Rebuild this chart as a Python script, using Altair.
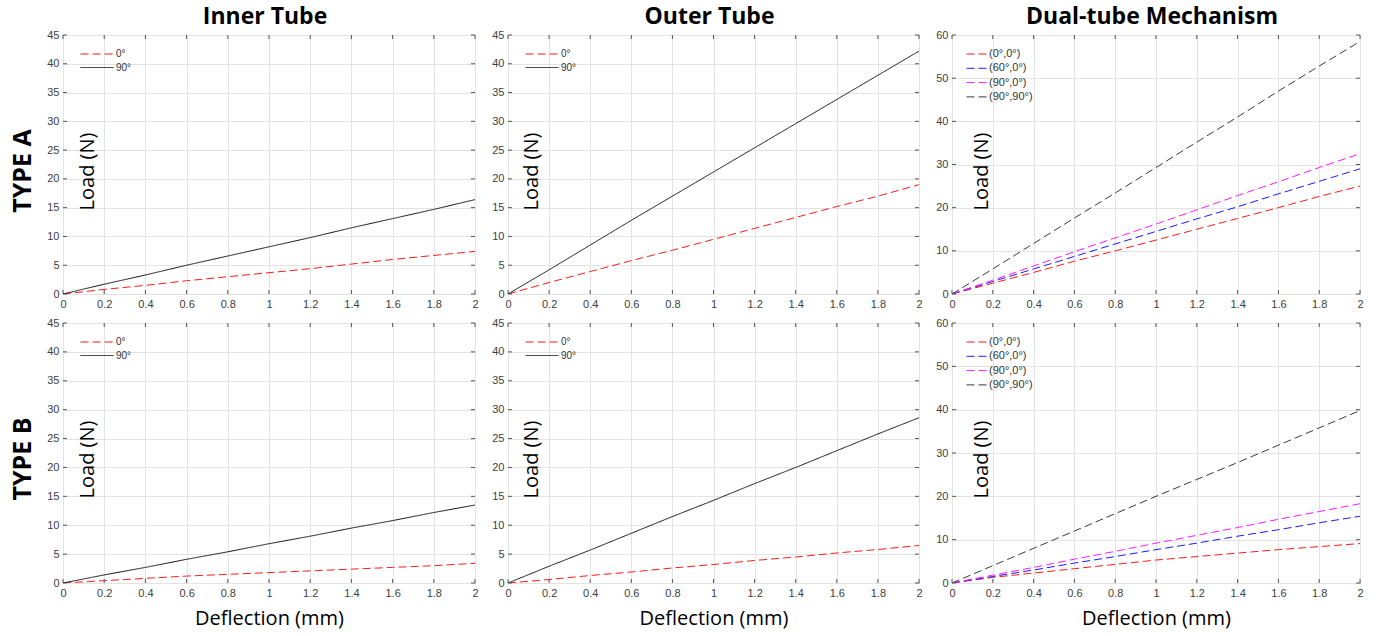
import altair as alt
import pandas as pd

# ---------------- data ----------------
deflection = [0, 0.2, 0.4, 0.6, 0.8, 1.0, 1.2, 1.4, 1.6, 1.8, 2.0]

inner_a_0 = [0, 0.8, 1.5, 2.3, 3.0, 3.7, 4.4, 5.2, 6.0, 6.7, 7.4]
inner_a_90 = [0, 1.7, 3.3, 5.0, 6.6, 8.2, 9.8, 11.5, 13.1, 14.7, 16.4]
outer_a_0 = [0, 2.0, 3.9, 5.8, 7.6, 9.5, 11.4, 13.3, 15.2, 17.0, 19.0]
outer_a_90 = [0, 4.2, 8.5, 12.8, 17.0, 21.2, 25.4, 29.6, 33.8, 38.0, 42.2]
dual_a_0_0 = [0, 2.5, 5.0, 7.6, 10.0, 12.5, 15.0, 17.5, 20.0, 22.6, 25.0]
dual_a_60_0 = [0, 2.9, 5.8, 8.7, 11.6, 14.5, 17.4, 20.2, 23.2, 26.1, 29.0]
dual_a_90_0 = [0, 3.2, 6.5, 9.8, 13.0, 16.2, 19.5, 22.8, 26.0, 29.3, 32.5]
dual_a_90_90 = [0, 5.8, 11.7, 17.6, 23.4, 29.3, 35.2, 41.0, 47.0, 52.8, 58.5]

inner_b_0 = [0, 0.4, 0.8, 1.2, 1.5, 1.8, 2.1, 2.4, 2.7, 3.0, 3.4]
inner_b_90 = [0, 1.4, 2.7, 4.1, 5.4, 6.8, 8.1, 9.5, 10.8, 12.2, 13.5]
outer_b_0 = [0, 0.6, 1.3, 1.9, 2.6, 3.2, 3.9, 4.5, 5.2, 5.8, 6.5]
outer_b_90 = [0, 2.9, 5.7, 8.6, 11.5, 14.3, 17.2, 20.0, 22.9, 25.8, 28.6]
dual_b_0_0 = [0, 1.3, 2.3, 3.3, 4.3, 5.3, 6.1, 6.9, 7.7, 8.4, 9.1]
dual_b_60_0 = [0, 1.5, 3.0, 4.6, 6.1, 7.7, 9.2, 10.8, 12.3, 13.9, 15.4]
dual_b_90_0 = [0, 1.8, 3.6, 5.5, 7.3, 9.2, 11.0, 12.8, 14.7, 16.5, 18.3]
dual_b_90_90 = [0, 4.0, 8.0, 12.0, 16.0, 20.0, 23.9, 27.8, 31.8, 35.8, 39.8]

single_series = ["0°", "90°"]
dual_series = ["(0°,0°)", "(60°,0°)", "(90°,0°)", "(90°,90°)"]
column_titles = ["Inner Tube", "Outer Tube", "Dual-tube Mechanism"]
row_titles = ["TYPE A", "TYPE B"]

x_ticks = [0, 0.2, 0.4, 0.6, 0.8, 1.0, 1.2, 1.4, 1.6, 1.8, 2.0]
y_ticks_single = [0, 5, 10, 15, 20, 25, 30, 35, 40, 45]
y_ticks_dual = [0, 10, 20, 30, 40, 50, 60]

# ---------------- styling ----------------
FRAME = "#555555"
TICKCOL = "#404040"
TICK_LEN = 4
TITLE_FONT = "Open Sans"
LABEL_FONT = "Liberation Sans"


def frame_df(names, series):
    rows = []
    for name, ys in zip(names, series):
        for x, y in zip(deflection, ys):
            rows.append({"x": x, "y": y, "series": name})
    return pd.DataFrame(rows)


def panel(names, series, colors, dashes, y_max, y_ticks, w, h,
          col_title=None, row_title=None, x_title=False,
          load_x=24, sym_len=33, legend_x=17, legend_font=10, row_pad=3.5):
    df = frame_df(names, series)
    xs = alt.Scale(domain=[0, 2], nice=False, zero=False)
    ys = alt.Scale(domain=[0, y_max], nice=False)

    x_axis = alt.Axis(
        values=x_ticks, format="~g", grid=True, ticks=False, domain=False,
        labelPadding=4, labelFontSize=11, labelFont=LABEL_FONT,
        labelColor=TICKCOL, labelFlush=False, labelOverlap=False,
        title="Deflection (mm)" if x_title else None,
        titleFont=TITLE_FONT, titleFontSize=20, titleFontWeight="normal",
        titleColor="black", titleY=35, titleBaseline="middle",
    )
    y_axis = alt.Axis(
        values=y_ticks, grid=True, ticks=False, domain=False,
        labelPadding=4, labelFontSize=11, labelFont=LABEL_FONT,
        labelColor=TICKCOL, labelFlush=False, labelOverlap=False,
        title="Load (N)", titleFont=TITLE_FONT, titleFontSize=20,
        titleFontWeight="normal", titleColor="black", titleAngle=270,
        titleX=load_x, titleY=136, titleBaseline="middle", titleAlign="center",
    )

    leg = alt.Legend(
        title=None, orient="none", legendX=legend_x, legendY=14,
        symbolType="stroke", symbolSize=sym_len * sym_len,
        symbolStrokeWidth=1, clipHeight=10, rowPadding=row_pad,
        labelOffset=2, labelFontSize=legend_font, labelFont=LABEL_FONT,
        labelColor="#333333", padding=0,
    )

    lines = alt.Chart(df).mark_line(strokeWidth=1, clip=True).encode(
        x=alt.X("x:Q", scale=xs, axis=x_axis),
        y=alt.Y("y:Q", scale=ys, axis=y_axis),
        color=alt.Color("series:N", scale=alt.Scale(domain=names, range=colors),
                        legend=leg),
        strokeDash=alt.StrokeDash("series:N",
                                  scale=alt.Scale(domain=names, range=dashes),
                                  legend=leg),
    )

    xt = pd.DataFrame({"v": x_ticks})
    yt = pd.DataFrame({"v": y_ticks})
    tick_layers = [
        alt.Chart(xt).mark_rule(color=FRAME, strokeWidth=1).encode(
            x=alt.X("v:Q", scale=xs, axis=x_axis),
            y=alt.value(h), y2=alt.value(h - TICK_LEN)),
        alt.Chart(xt).mark_rule(color=FRAME, strokeWidth=1).encode(
            x=alt.X("v:Q", scale=xs, axis=x_axis),
            y=alt.value(0), y2=alt.value(TICK_LEN)),
        alt.Chart(yt).mark_rule(color=FRAME, strokeWidth=1).encode(
            y=alt.Y("v:Q", scale=ys, axis=y_axis),
            x=alt.value(0), x2=alt.value(TICK_LEN)),
        alt.Chart(yt).mark_rule(color=FRAME, strokeWidth=1).encode(
            y=alt.Y("v:Q", scale=ys, axis=y_axis),
            x=alt.value(w), x2=alt.value(w - TICK_LEN)),
    ]

    layers = [lines] + tick_layers
    if col_title:
        layers.append(
            alt.Chart(pd.DataFrame({"t": [col_title]})).mark_text(
                font=TITLE_FONT, fontSize=23, fontWeight="bold", color="black",
                align="center", baseline="alphabetic",
            ).encode(text="t:N", x=alt.value(w / 2 - 4), y=alt.value(-11))
        )
    if row_title:
        layers.append(
            alt.Chart(pd.DataFrame({"t": [row_title]})).mark_text(
                font=TITLE_FONT, fontSize=25, fontWeight="bold", color="black",
                align="center", baseline="middle", angle=270,
            ).encode(text="t:N", x=alt.value(-40), y=alt.value(136))
        )
    return alt.layer(*layers).properties(width=w, height=h)


RED = "#ff1a1a"
BLACK = "#111111"
single_colors = [RED, BLACK]
single_dashes = [[8, 4], [1, 0]]
dual_colors = [RED, "#1a1aff", "#ff1aff", "#3a3a3a"]
dual_dashes = [[8, 4], [8, 4], [8, 4], [8, 4]]

HA, HB = 259, 260
W1, W2, W3 = 412, 411, 408

panels = [
    panel(single_series, [inner_a_0, inner_a_90], single_colors, single_dashes,
          45, y_ticks_single, W1, HA, col_title=column_titles[0],
          row_title=row_titles[0], load_x=24),
    panel(single_series, [outer_a_0, outer_a_90], single_colors, single_dashes,
          45, y_ticks_single, W2, HA, col_title=column_titles[1], load_x=23),
    panel(dual_series, [dual_a_0_0, dual_a_60_0, dual_a_90_0, dual_a_90_90],
          dual_colors, dual_dashes, 60, y_ticks_dual, W3, HA,
          col_title=column_titles[2], load_x=29, sym_len=20, legend_x=14,
          legend_font=11, row_pad=3.3),
    panel(single_series, [inner_b_0, inner_b_90], single_colors, single_dashes,
          45, y_ticks_single, W1, HB, row_title=row_titles[1], x_title=True,
          load_x=24),
    panel(single_series, [outer_b_0, outer_b_90], single_colors, single_dashes,
          45, y_ticks_single, W2, HB, x_title=True, load_x=23),
    panel(dual_series, [dual_b_0_0, dual_b_60_0, dual_b_90_0, dual_b_90_90],
          dual_colors, dual_dashes, 60, y_ticks_dual, W3, HB, x_title=True,
          load_x=29, sym_len=20, legend_x=14, legend_font=11, row_pad=3.3),
]

chart = alt.concat(
    *panels, columns=3, spacing={"row": 29, "column": 33}, bounds="flush"
).properties(
    padding={"left": 10, "top": 5, "right": 5, "bottom": 5},
    background="white",
).configure_view(
    stroke=FRAME, strokeWidth=1,
).configure_axis(
    gridColor="#e3e3e3", gridWidth=1,
).resolve_scale(
    x="independent", y="independent",
    color="independent", strokeDash="independent",
)

chart.save("out.html", embed_options={"renderer": "svg", "actions": False})
